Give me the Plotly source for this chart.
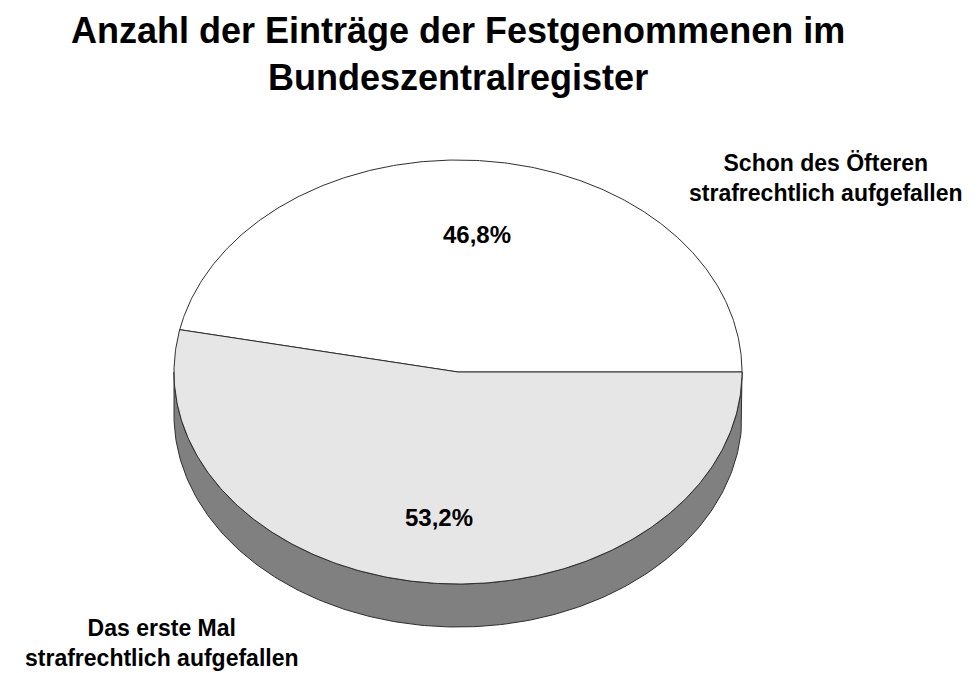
import numpy as np
import plotly.graph_objects as go

# ---- data ----
categories = ["Schon des Öfteren<br>strafrechtlich aufgefallen",
              "Das erste Mal<br>strafrechtlich aufgefallen"]
values = [46.8, 53.2]
top_colors = ["#ffffff", "#e6e6e6"]
side_colors = ["#bfbfbf", "#808080"]
title_text = "Anzahl der Einträge der Festgenommenen im<br>Bundeszentralregister"

# ---- geometry (pixel-like coordinate space) ----
W, H = 977, 673
cx, cy = 458, 372      # centre of top ellipse
a, b = 284, 212        # semi axes
depth = 43             # thickness of pie
edge = "#2e2e2e"
FONT = "Liberation Sans, Arial, sans-serif"

total = sum(values)
angles = np.cumsum([0] + [v / total * 360 for v in values])  # degrees, ccw from 3 o'clock

def ex(t):
    return cx + a * np.cos(np.radians(t))

def ey(t, dz=0):
    return cy - b * np.sin(np.radians(t)) + dz

fig = go.Figure()

# side walls (only front half, 180..360 deg, is visible)
for i in range(len(values)):
    s, e = angles[i], angles[i + 1]
    lo, hi = max(s, 180), min(e, 360)
    if hi <= lo:
        continue
    t = np.linspace(lo, hi, 200)
    xs = np.concatenate([ex(t), ex(t[::-1])])
    ys = np.concatenate([ey(t), ey(t[::-1], depth)])
    fig.add_trace(go.Scatter(x=np.append(xs, xs[0]), y=np.append(ys, ys[0]),
                             mode="lines", fill="toself", fillcolor=side_colors[i],
                             line=dict(color=edge, width=1), hoverinfo="skip",
                             showlegend=False))

# top faces
for i in range(len(values)):
    s, e = angles[i], angles[i + 1]
    t = np.linspace(s, e, 300)
    xs = np.concatenate([[cx], ex(t), [cx]])
    ys = np.concatenate([[cy], ey(t), [cy]])
    fig.add_trace(go.Scatter(x=xs, y=ys, mode="lines", fill="toself",
                             fillcolor=top_colors[i],
                             line=dict(color=edge, width=1), hoverinfo="skip",
                             showlegend=False))

annotations = []
# percentage labels
for i, v in enumerate(values):
    mid = (angles[i] + angles[i + 1]) / 2
    r = 0.65
    dz = depth * 0.2 if np.sin(np.radians(mid)) < 0 else 0
    annotations.append(dict(x=cx + a * r * np.cos(np.radians(mid)),
                            y=cy - b * r * np.sin(np.radians(mid)) + dz,
                            text=f"{v:.1f}%".replace(".", ","), showarrow=False,
                            font=dict(family=FONT, size=24, color="#000000", weight="bold"),
                            xref="x", yref="y"))

# category labels
label_pos = [(826, 178), (162, 643)]
for (lx, ly), c in zip(label_pos, categories):
    annotations.append(dict(x=lx, y=ly, text=c, showarrow=False, align="center",
                            font=dict(family=FONT, size=23, color="#000000", weight="bold"),
                            xref="x", yref="y"))

# title
annotations.append(dict(x=458, y=54, text=title_text, showarrow=False, align="center",
                        font=dict(family=FONT, size=36, color="#000000", weight="bold"),
                        xref="x", yref="y"))

fig.update_layout(
    width=W, height=H,
    margin=dict(l=0, r=0, t=0, b=0),
    paper_bgcolor="#ffffff", plot_bgcolor="#ffffff",
    xaxis=dict(range=[0, W], visible=False, fixedrange=True),
    yaxis=dict(range=[H, 0], visible=False, fixedrange=True),
    annotations=annotations,
    showlegend=False,
)

fig.write_html("out.html", config={"displayModeBar": False},
               post_script="document.body.style.margin='0';document.body.style.overflow='hidden';")
